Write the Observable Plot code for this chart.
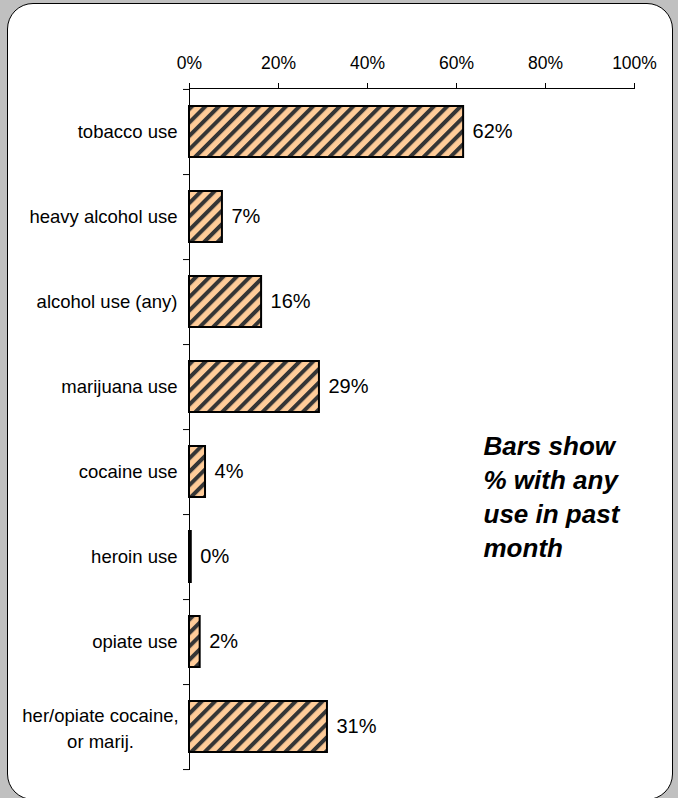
<!DOCTYPE html>
<html>
<head>
<meta charset="utf-8">
<script src="https://cdn.jsdelivr.net/npm/d3@7"></script>
<script src="https://cdn.jsdelivr.net/npm/@observablehq/plot@0.6"></script>
<style>
  html, body { margin: 0; padding: 0; }
  body { width: 678px; height: 798px; background: #c0c0c0; overflow: hidden; position: relative; font-family: "Liberation Sans", Arial, sans-serif; }
  #box { position: absolute; left: 7px; top: 3px; width: 666px; height: 797px; box-sizing: border-box; border: 1.5px solid #000; border-radius: 26px; background: #fff; }
  #chart { position: absolute; left: 0; top: 0; }
  #chart svg { background: transparent; color: #000; }
</style>
</head>
<body>
<div id="box"></div>
<div id="chart"></div>
<script>
const categories = ["tobacco use", "heavy alcohol use", "alcohol use (any)", "marijuana use", "cocaine use", "heroin use", "opiate use", "her/opiate cocaine, or marij."];
const labels = ["tobacco use", "heavy alcohol use", "alcohol use (any)", "marijuana use", "cocaine use", "heroin use", "opiate use", "her/opiate cocaine,\nor marij."];
const values = [61.6, 7.4, 16.2, 29.2, 3.6, 0.4, 2.4, 31.0];
const xTicks = [0, 20, 40, 60, 80, 100];
const note = "Bars show\n% with any\nuse in past\nmonth";

const data = categories.map((c, i) => ({cat: c, label: labels[i], value: values[i]}));
const singles = data.filter(d => !d.label.includes("\n"));
const multis = data.filter(d => d.label.includes("\n"));

const font = "'Liberation Sans', Arial, sans-serif";
const halfStep = 681 / 8 / 2;

const plot = Plot.plot({
  width: 678,
  height: 798,
  marginLeft: 189,
  marginRight: 44,
  marginTop: 88,
  marginBottom: 29,
  style: {fontFamily: font, background: "transparent", color: "#000"},
  x: {domain: [0, 100], range: [189, 634]},
  y: {domain: categories, range: [88, 769], paddingInner: 0.4, paddingOuter: 0.2, align: 0.5},
  marks: [
    Plot.barX(data, {x: "value", y: "cat", fill: "url(#hatch)", stroke: "#000", strokeWidth: 2}),
    Plot.frame({anchor: "top", stroke: "#000", strokeWidth: 1}),
    Plot.frame({anchor: "left", stroke: "#000", strokeWidth: 1}),
    Plot.axisX(xTicks, {anchor: "top", tickSize: 6, tickPadding: 14, tickFormat: d => d + "%", fontSize: 17.5, label: null, stroke: "#000"}),
    Plot.axisY(categories, {anchor: "left", tickSize: 6, tickFormat: () => "", dy: halfStep, label: null, stroke: "#000"}),
    Plot.axisY(categories.slice(0, 1), {anchor: "left", tickSize: 6, tickFormat: () => "", dy: -halfStep, label: null, stroke: "#000"}),
    Plot.text(singles, {y: "cat", text: "label", frameAnchor: "left", textAnchor: "end", dx: -12, fontSize: 18.5, fill: "#000"}),
    Plot.text(multis, {y: "cat", text: "label", frameAnchor: "left", textAnchor: "middle", dx: -89, lineHeight: 1.38, fontSize: 18.5, fill: "#000"}),
    Plot.text(data, {x: "value", y: "cat", text: d => Math.round(d.value) + "%", dx: 9, textAnchor: "start", fontSize: 20, fill: "#000"}),
    Plot.text([note], {frameAnchor: "top-left", dx: 294, dy: 407, textAnchor: "start", lineAnchor: "middle", lineHeight: 1.31, fontSize: 26, fontWeight: "bold", fontStyle: "italic", fill: "#000"})
  ]
});

const svg = d3.select(plot);
const defs = svg.insert("defs", ":first-child");
const pat = defs.append("pattern")
  .attr("id", "hatch")
  .attr("patternUnits", "userSpaceOnUse")
  .attr("width", 9.5)
  .attr("height", 9.5)
  .attr("patternTransform", "rotate(45)");
pat.append("rect").attr("width", 9.5).attr("height", 9.5).attr("fill", "#ffcc99");
pat.append("rect").attr("x", 0).attr("y", 0).attr("width", 4).attr("height", 9.5).attr("fill", "#353535");

document.getElementById("chart").appendChild(plot);
</script>
</body>
</html>
